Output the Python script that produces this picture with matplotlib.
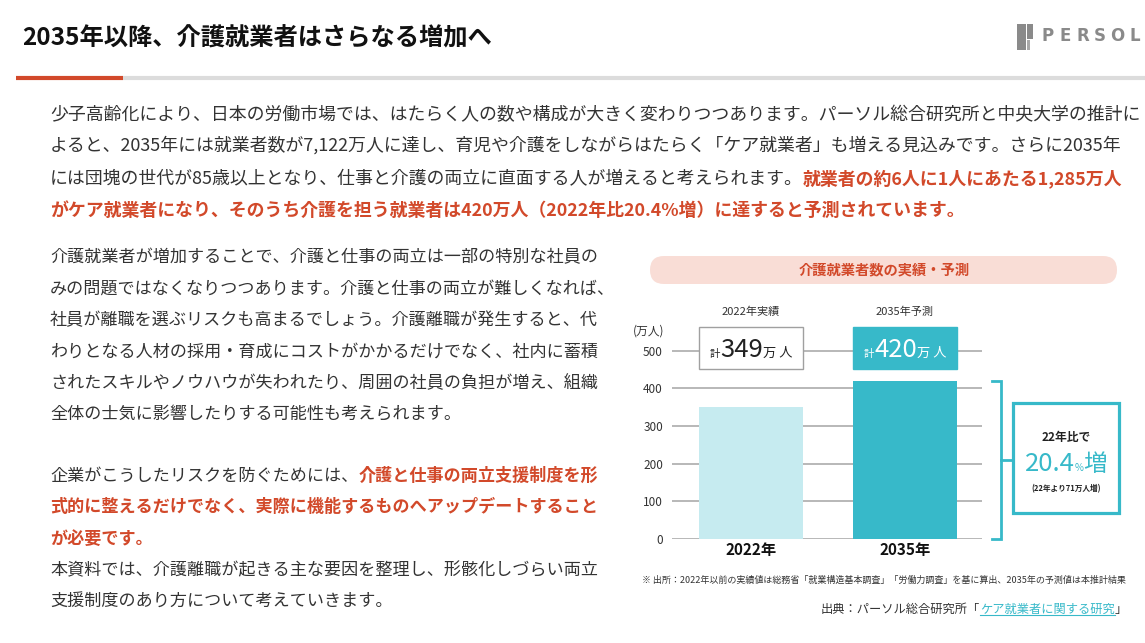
import matplotlib
matplotlib.use('Agg')
import numpy as np
import matplotlib.pyplot as plt
from matplotlib.patches import Rectangle, FancyBboxPatch

plt.rcParams['font.family'] = ['Noto Sans CJK JP', 'DejaVu Sans']

# データ
years = ['2022年', '2035年']
values = [349, 420]
box_titles = ['2022年実績', '2035年予測']
yticks = [0, 100, 200, 300, 400, 500]
increase_pct = '20.4'
increase_abs = 71

TITLE = '2035年以降、介護就業者はさらなる増加へ'
CHART_TITLE = '介護就業者数の実績・予測'
NOTE = '※ 出所：2022年以前の実績値は総務省「就業構造基本調査」「労働力調査」を基に算出、2035年の予測値は本推計結果'

# 色
RED = '#d2492a'
TEXT = '#333333'
TEAL = '#37b9c9'
LIGHT = '#c6ebf0'

W, H = 1145, 643
fig = plt.figure(figsize=(W / 100, H / 100), dpi=100)
bg = fig.add_axes([0, 0, 1, 1])
bg.set_xlim(0, W)
bg.set_ylim(H, 0)
bg.axis('off')
bg.set_zorder(5)  # 文字はグラフの上に描く
bg.patch.set_visible(False)
renderer = fig.canvas.get_renderer()


def runs(x, y, parts, ha='left', va='baseline'):
    """色や太さの違う文字列を横に並べる (bg のピクセル座標)"""
    items = []
    cx = x
    for s, size, color, weight in parts:
        t = bg.text(cx, y, s, fontsize=size, color=color, fontweight=weight,
                    va=va, ha='left')
        cx += t.get_window_extent(renderer).width
        items.append(t)
    off = {'left': 0, 'center': (cx - x) / 2, 'right': cx - x}[ha]
    for t in items:
        t.set_x(t.get_position()[0] - off)
    return items


def line(yc, parts, x=50, size=12.8):
    # 中心 y から baseline を計算
    base = yc + 0.38 * size * 100 / 72
    return runs(x, base, [(s, size, c, w) for s, c, w in parts])


# ヘッダー
bg.text(22, 38, TITLE, fontsize=17.5, fontweight='bold', color='#111111', va='center')
bg.plot([123, W], [78, 78], color='#dcdcdc', lw=3, solid_capstyle='butt')
bg.plot([16, 123], [78, 78], color=RED, lw=3, solid_capstyle='butt')
# ロゴ
bg.add_patch(Rectangle((1017, 24), 9, 26, color='#8a8a8a', lw=0))
bg.add_patch(Rectangle((1027, 24), 6, 15, color='#8a8a8a', lw=0))
bg.add_patch(Rectangle((1027, 40), 3, 10, color='#a8a8a8', lw=0))
for i, ch in enumerate('PERSOL'):
    bg.text(1048 + i * 17.3, 36, ch, fontsize=12, color='#8a8a8a', fontweight='bold',
            ha='center', va='center', family='DejaVu Sans')

N, B = 'normal', 'bold'
# 本文1
line(113, [('少子高齢化により、日本の労働市場では、はたらく人の数や構成が大きく変わりつつあります。パーソル総合研究所と中央大学の推計に', TEXT, N)], size=12.9)
line(144, [('よると、2035年には就業者数が7,122万人に達し、育児や介護をしながらはたらく「ケア就業者」も増える見込みです。さらに2035年', TEXT, N)], size=12.9)
line(177, [('には団塊の世代が85歳以上となり、仕事と介護の両立に直面する人が増えると考えられます。', TEXT, N),
           ('就業者の約6人に1人にあたる1,285万人', RED, B)], size=12.9)
line(209, [('がケア就業者になり、そのうち介護を担う就業者は420万人（2022年比20.4%増）に達すると予測されています。', RED, B)], size=12.9)

# 本文2
para2 = ['介護就業者が増加することで、介護と仕事の両立は一部の特別な社員の',
         'みの問題ではなくなりつつあります。介護と仕事の両立が難しくなれば、',
         '社員が離職を選ぶリスクも高まるでしょう。介護離職が発生すると、代',
         'わりとなる人材の採用・育成にコストがかかるだけでなく、社内に蓄積',
         'されたスキルやノウハウが失われたり、周囲の社員の負担が増え、組織',
         '全体の士気に影響したりする可能性も考えられます。']
for k, s in enumerate(para2):
    line(256 + k * 31.4, [(s, TEXT, N)], size=12.3)

# 本文3
line(474, [('企業がこうしたリスクを防ぐためには、', TEXT, N), ('介護と仕事の両立支援制度を形', RED, B)], size=12.3)
line(506, [('式的に整えるだけでなく、実際に機能するものへアップデートすること', RED, B)], size=12.3)
line(537, [('が必要です。', RED, B)], size=12.3)
line(569, [('本資料では、介護離職が起きる主な要因を整理し、形骸化しづらい両立', TEXT, N)], size=12.3)
line(600, [('支援制度のあり方について考えていきます。', TEXT, N)], size=12.3)

# グラフのタイトル帯
bg.add_patch(FancyBboxPatch((650, 256), 467, 28, boxstyle='round,pad=0,rounding_size=14',
                            fc='#f9ddd6', ec='none'))
bg.text(884, 270, CHART_TITLE, fontsize=10.3, fontweight='bold', color=RED,
        ha='center', va='center')

# 棒グラフ
PX = 0.377  # 1単位あたりのピクセル
ax = fig.add_axes([672 / W, (H - 539) / H, 310 / W, 570 * PX / H])
ax.set_xlim(-0.513, 1.5)
ax.set_ylim(0, 570)
ax.patch.set_visible(False)
x = np.arange(len(years))
ax.bar(x, values, width=0.675, color=[LIGHT, TEAL], zorder=2)
ax.set_yticks(yticks)
ax.grid(axis='y', color='#b8b8b8', lw=1.4)
ax.set_axisbelow(True)
for sp in ax.spines.values():
    sp.set_visible(False)
ax.tick_params(axis='y', length=0, pad=6.5, labelsize=8.5, labelcolor=TEXT)
ax.set_xticks(x, years)
ax.tick_params(axis='x', length=0, pad=2, labelsize=11, labelcolor='#111111')
for lab in ax.get_xticklabels():
    lab.set_fontweight('bold')

bg.text(649, 331, '(万人)', fontsize=8.5, color=TEXT, ha='center', va='center')

# 実績・予測のラベル
for i, v in enumerate(values):
    ax.text(i, 602, box_titles[i], fontsize=8, color=TEXT, ha='center', va='center',
            clip_on=False)
    fc, ec, tc = ('white', '#a0a0a0', '#222222') if i == 0 else (TEAL, TEAL, 'white')
    ax.add_patch(Rectangle((i - 0.3375, 451), 0.675, 111, fc=fc, ec=ec, lw=1,
                           clip_on=False, zorder=3))
    dx, dy = ax.transData.transform((i, 506))
    runs(dx, H - dy + 9, [('計', 7.5, tc, N), (str(v), 18.5, tc, N), ('万 人', 9.5, tc, N)],
         ha='center')

# 増加のかっこ
xb = 1.623
ax.plot([1.565, xb, xb, 1.565], [values[1], values[1], 0, 0], color=TEAL, lw=2,
        clip_on=False, solid_joinstyle='miter')
ax.plot([xb, 1.701], [values[1] / 2, values[1] / 2], color=TEAL, lw=2, clip_on=False)
ax.add_patch(Rectangle((1.701, 69), 0.689, 292, fc='white', ec=TEAL, lw=2.3,
                       clip_on=False))
bg.text(1066, 437, '22年比で', fontsize=8.5, fontweight='bold', color='#222222',
        ha='center', va='center')
runs(1066, 471, [(increase_pct, 18.5, TEAL, N), ('%', 7, TEAL, N), ('増', 17, TEAL, N)],
     ha='center')
bg.text(1066, 489, f'(22年より{increase_abs}万人増)', fontsize=5.5, fontweight='bold',
        color='#222222', ha='center', va='center')

# 注記と出典
bg.text(642, 580, NOTE, fontsize=6.5, color=TEXT, va='center')
src = runs(1127, 613, [('出典：パーソル総合研究所「', 8.8, TEXT, N),
                       ('ケア就業者に関する研究', 8.8, TEAL, N),
                       ('」', 8.8, TEXT, N)], ha='right')
e = src[1].get_window_extent(renderer)
bg.plot([e.x0, e.x1], [H - e.y0 - 1, H - e.y0 - 1], color=TEAL, lw=0.8)

fig.savefig('out.png', dpi=100)
